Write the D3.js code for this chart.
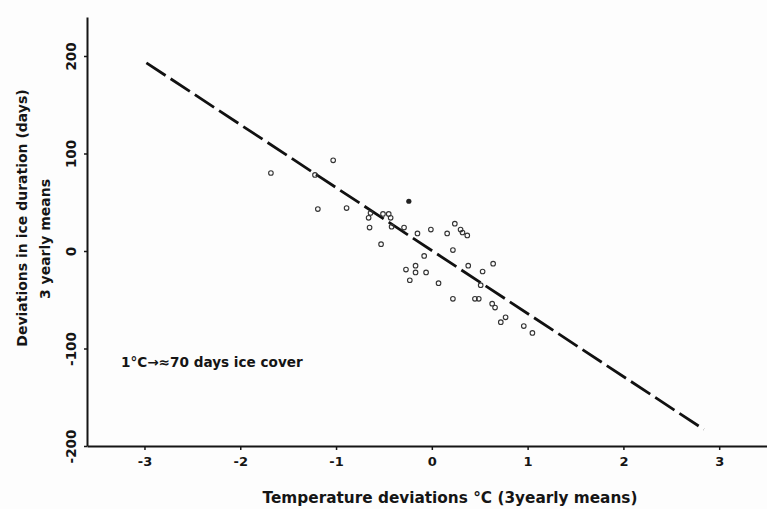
<!DOCTYPE html>
<html>
<head>
<meta charset="utf-8">
<script src="https://cdn.jsdelivr.net/npm/d3@7"></script>
<style>
    body{ margin:0; background:#fdfdfd; }
    svg{ display:block; }
    text{ font-family:"DejaVu Sans", sans-serif; font-weight:bold; fill:#151515; }
</style>
</head>
<body>
<div class="chart"></div>
<script>

// Temperature deviation (°C) vs ice duration deviation (days), 3-yearly means
const tempDev = [
    -1.68, -1.03, -1.22, -1.19, -0.89, -0.64, -0.66, -0.65, -0.51, -0.45,
    -0.43, -0.42, -0.29, -0.15, -0.01, -0.53, 0.24, 0.30, 0.32, 0.37,
    0.16, 0.22, -0.08, -0.17, -0.17, -0.27, -0.06, -0.23, 0.07, 0.38,
    0.53, 0.64, 0.51, 0.22, 0.45, 0.49, 0.63, 0.66, 0.77, 0.72,
    0.96, 1.05
];
const iceDev = [
    80, 93, 78, 43, 44, 39, 34, 24, 38, 38,
    34, 25, 24, 18, 22, 7, 28, 22, 19, 16,
    18, 1, -5, -15, -22, -19, -22, -30, -33, -15,
    -21, -13, -35, -49, -49, -49, -54, -58, -68, -73,
    -77, -84
];

// the one filled point
const filledTemp = [-0.24];
const filledIce = [51];

// regression line end points
const fitTemp = [-2.98, 2.84];
const fitIce = [193, -183];

const xTicks = [-3, -2, -1, 0, 1, 2, 3];
const yTicks = [-200, -100, 0, 100, 200];

const width = 767;
const height = 509;

const svg = d3.select(".chart")
    .append("svg")
    .attr("width", width)
    .attr("height", height);

const x = d3.scaleLinear()
    .domain([-3.6, 3.52])
    .range([87, 769]);

const y = d3.scaleLinear()
    .domain([-200, 240])
    .range([446, 17]);

// Ejes

const xAxis = svg.append("g")
    .attr("transform", `translate(0,${y(-200)})`)
    .call(d3.axisBottom(x)
        .tickValues(xTicks)
        .tickSize(4)
        .tickSizeOuter(0)
        .tickPadding(7)
        .tickFormat(d3.format("d")));

const yAxis = svg.append("g")
    .attr("transform", `translate(${x(-3.6)},0)`)
    .call(d3.axisLeft(y)
        .tickValues(yTicks)
        .tickSize(3)
        .tickSizeOuter(0)
        .tickFormat(d3.format("d")));

svg.selectAll(".domain")
    .attr("stroke", "#151515")
    .attr("stroke-width", 2);

svg.selectAll(".tick line")
    .attr("stroke", "#151515")
    .attr("stroke-width", 1.5);

xAxis.selectAll(".tick text")
    .style("font-size", "13px")
    .text(d => d < 0 ? "-" + Math.abs(d) : d);

yAxis.selectAll(".tick text")
    .style("font-size", "13.5px")
    .attr("text-anchor", "middle")
    .attr("transform", "rotate(-90)")
    .attr("x", 0)
    .attr("y", -11)
    .attr("dy", "0")
    .text(d => d < 0 ? "-" + Math.abs(d) : d);

// Línea de regresión

svg.append("path")
    .datum(d3.zip(fitTemp, fitIce))
    .attr("d", d3.line()
        .x(d => x(d[0]))
        .y(d => y(d[1])))
    .attr("fill", "none")
    .attr("stroke", "#111")
    .attr("stroke-width", 2.8)
    .attr("stroke-dasharray", "23,6");

// Puntos

svg.selectAll("circle.obs")
    .data(d3.zip(tempDev, iceDev))
    .enter()
    .append("circle")
    .attr("class", "obs")
    .attr("cx", d => x(d[0]))
    .attr("cy", d => y(d[1]))
    .attr("r", 2.3)
    .attr("fill", "none")
    .attr("stroke", "#333")
    .attr("stroke-width", 1.1);

svg.selectAll("circle.filled")
    .data(d3.zip(filledTemp, filledIce))
    .enter()
    .append("circle")
    .attr("class", "filled")
    .attr("cx", d => x(d[0]))
    .attr("cy", d => y(d[1]))
    .attr("r", 2.6)
    .attr("fill", "#222");

// Textos

svg.append("text")
    .attr("x", 121)
    .attr("y", 367)
    .style("font-size", "13.6px")
    .text("1°C→≈70 days ice cover");

svg.append("text")
    .attr("x", 450)
    .attr("y", 503)
    .attr("text-anchor", "middle")
    .style("font-size", "15.3px")
    .text("Temperature deviations °C (3yearly means)");

svg.append("text")
    .attr("transform", "translate(27,218) rotate(-90)")
    .attr("text-anchor", "middle")
    .style("font-size", "14px")
    .text("Deviations in ice duration (days)");

svg.append("text")
    .attr("transform", "translate(50,239) rotate(-90)")
    .attr("text-anchor", "middle")
    .style("font-size", "14px")
    .text("3 yearly means");

</script>
</body>
</html>
